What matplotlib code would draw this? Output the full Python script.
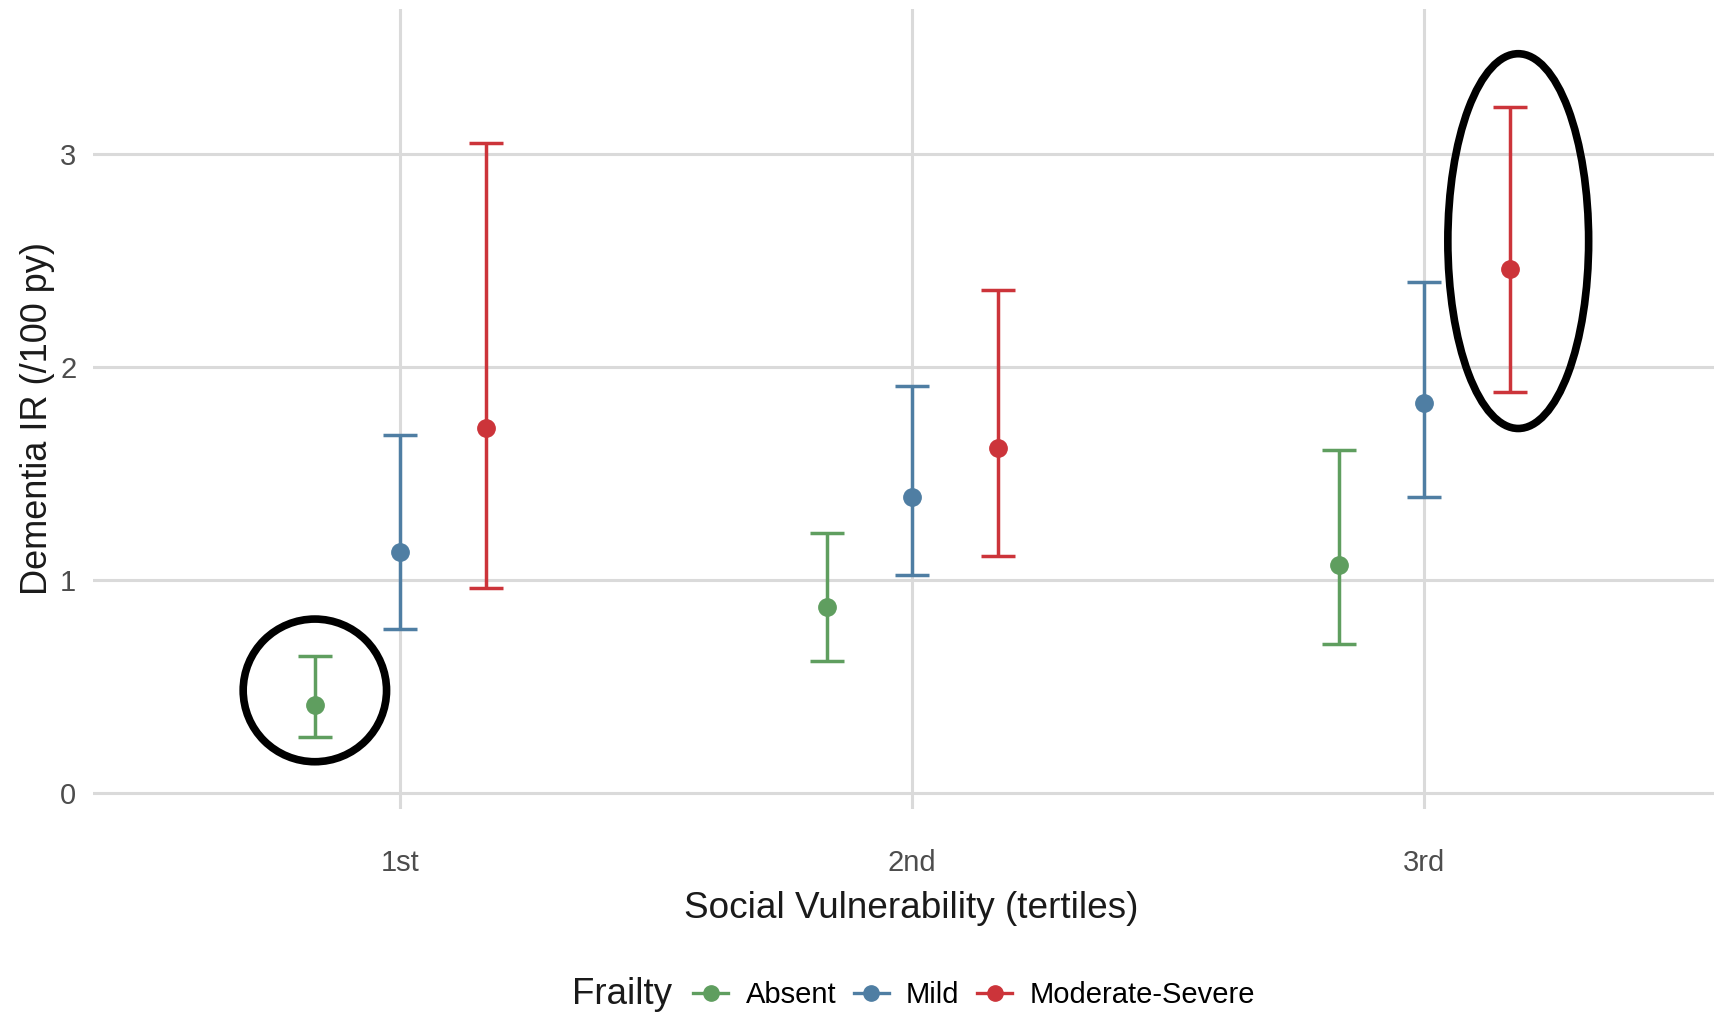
import numpy as np
import matplotlib
matplotlib.use("Agg")
import matplotlib.pyplot as plt
from matplotlib.lines import Line2D
from matplotlib.patches import Ellipse

plt.rcParams["font.family"] = ["Liberation Sans", "DejaVu Sans"]

tertiles = ["1st", "2nd", "3rd"]
frailty = ["Absent", "Mild", "Moderate-Severe"]
colors = ["#5f9e5f", "#4f7ea3", "#cc343a"]

# incidence rate and 95% CI per frailty group, one value per tertile
ir = {
    "Absent": [0.41, 0.87, 1.07],
    "Mild": [1.13, 1.39, 1.83],
    "Moderate-Severe": [1.71, 1.62, 2.46],
}
ci_low = {
    "Absent": [0.26, 0.62, 0.70],
    "Mild": [0.77, 1.02, 1.39],
    "Moderate-Severe": [0.96, 1.11, 1.88],
}
ci_high = {
    "Absent": [0.64, 1.22, 1.61],
    "Mild": [1.68, 1.91, 2.40],
    "Moderate-Severe": [3.05, 2.36, 3.22],
}

# points picked out with a black ring:
# (frailty group, tertile index, width, height, x shift, y shift)
highlights = [("Absent", 0, 0.28, 0.67, 0.0, 0.03),
              ("Moderate-Severe", 2, 0.275, 1.76, 0.017, 0.04)]

fig = plt.figure(figsize=(17.14, 10.14), dpi=100)
ax = fig.add_axes([93 / 1714, 1 - 809 / 1014, 1 - 93 / 1714, (809 - 9) / 1014])

dodge = [-1 / 6, 0, 1 / 6]
xpos = np.arange(1, len(tertiles) + 1)
for grp, col, off in zip(frailty, colors, dodge):
    y = np.array(ir[grp])
    lo = y - np.array(ci_low[grp])
    hi = np.array(ci_high[grp]) - y
    ax.errorbar(xpos + off, y, yerr=[lo, hi], fmt="o", color=col,
                ms=12.5, elinewidth=2.5, capsize=12, capthick=2.5, zorder=3)

for grp, i, w, h, dx, dy in highlights:
    g = frailty.index(grp)
    cx = xpos[i] + dodge[g] + dx
    cy = (ci_low[grp][i] + ci_high[grp][i]) / 2 + dy
    ax.add_patch(Ellipse((cx, cy), w, h, fill=False, ec="black", lw=5.5,
                         zorder=4))

ax.set_xlim(0.4, 3.566)
ax.set_ylim(-0.077, 3.68)
ax.set_xticks(xpos)
ax.set_xticklabels(tertiles)
ax.set_yticks([0, 1, 2, 3])
ax.grid(True, color="#dadada", lw=2.2)
ax.set_axisbelow(True)
for s in ax.spines.values():
    s.set_visible(False)
ax.tick_params(length=0, labelsize=21, labelcolor="#4d4d4d")
ax.tick_params(axis="x", pad=29)
ax.tick_params(axis="y", pad=12)

ax.set_xlabel("Social Vulnerability (tertiles)", fontsize=26.6, color="#1a1a1a",
              labelpad=10)
ax.set_ylabel("Dementia IR (/100 py)", fontsize=26, color="#1a1a1a",
              labelpad=4)
ax.xaxis.label.set_x(0.505)
ax.yaxis.label.set_y(0.4875)

fig.text(572 / 1714, 0.019, "Frailty", fontsize=26.5, color="#1a1a1a",
         ha="left", va="center")
handles = [Line2D([], [], color=c, marker="o", ms=11, lw=2.4) for c in colors]
fig.legend(handles, frailty, loc="center left",
           bbox_to_anchor=(693 / 1714, 0.019), ncol=3, frameon=False,
           fontsize=21, handlelength=1.2, handletextpad=0.6,
           columnspacing=0.6, borderaxespad=0, borderpad=0)

fig.savefig("out.png", dpi=100)
